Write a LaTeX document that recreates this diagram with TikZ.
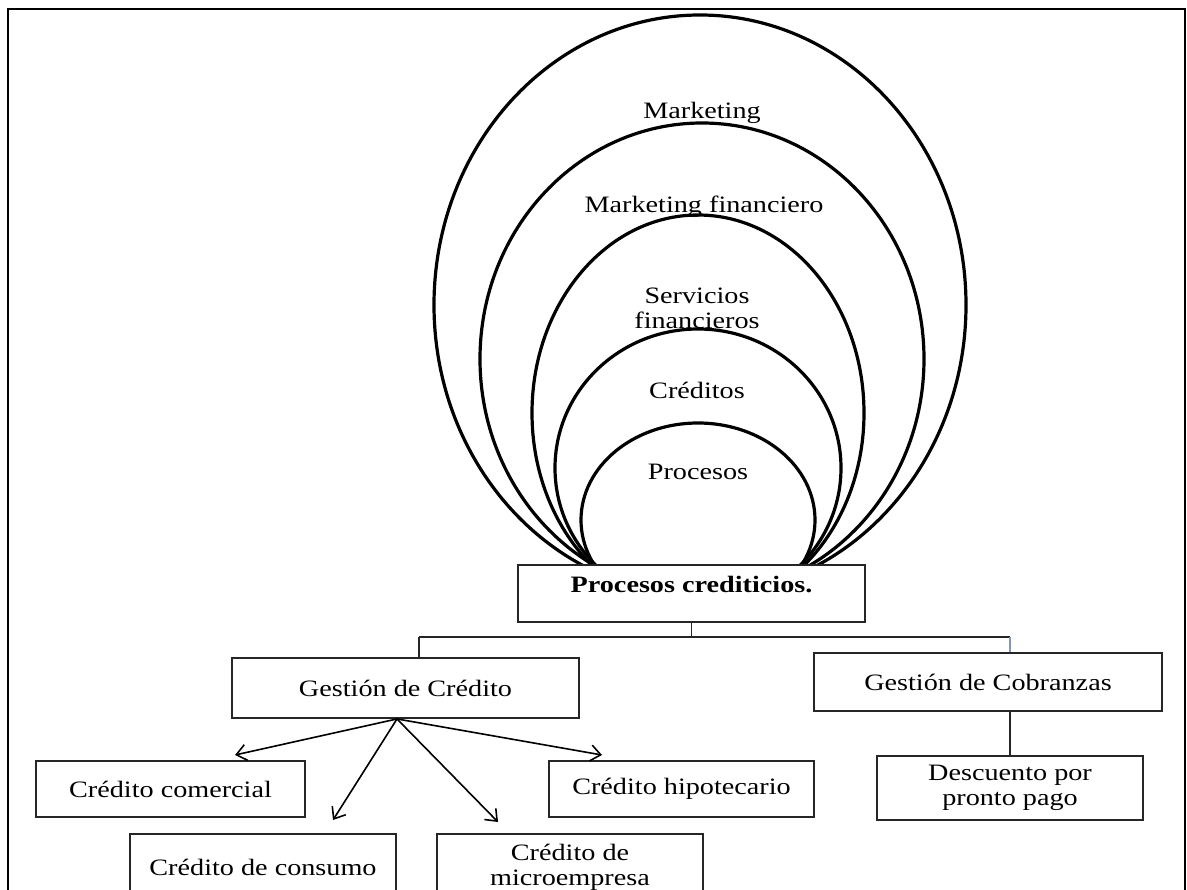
\documentclass[tikz,border=0pt]{standalone}
\usepackage{fontspec}
\setmainfont{Liberation Serif}[FakeStretch=1.2]
\usetikzlibrary{arrows.meta}
\newcommand{\txtf}{\fontsize{23.5}{25}\selectfont}
\definecolor{bluish}{RGB}{125,150,185}
\begin{document}
\begin{tikzpicture}[x=1pt,y=-1pt,
  oval/.style={draw=black, line width=3.2pt},
  lbl/.style={inner sep=0pt, align=center, font=\txtf},
  box/.style={draw=black!85, line width=1.9pt, fill=white, inner sep=0pt, align=center, font=\txtf},
  conn/.style={draw=black!85, line width=1.7pt},
  arr/.style={draw=black, line width=1.6pt, -{Straight Barb[length=10pt,width=16pt,line width=1.6pt]}}]
\clip (0,0) rectangle (1187,890);
% outer frame
\draw[line width=1.8pt] (8,900) -- (8,9) -- (1185,9) -- (1185,900);
% nested ovals
\begin{scope}
\clip (0,0) rectangle (1187,566);
\foreach \cx/\cy/\a/\b in {700/305/266/290, 702/359/222/236, 698/413/166/198, 698/468/143/139, 698/520/117/97}
  \draw[oval] (\cx,\cy) ellipse [x radius=\a pt, y radius=\b pt];
\end{scope}
\node[lbl] (mk) at (702,113) {Marketing};
\node[lbl] (mf) at (704,207) {Marketing financiero};
\node[lbl] (sf) at (697,308) {Servicios\\financieros};
\node[lbl] (cr) at (697,390) {Créditos};
\node[lbl] (pr) at (698,472) {Procesos};
% boxes
\node[box, minimum width=347pt, minimum height=57pt, font=\txtf\bfseries, text depth=18pt] (PC) at (691.5,593.5) {Procesos crediticios.};
\node[box, minimum width=347pt, minimum height=60pt] (GC) at (405.5,688) {Gestión de Crédito};
\node[box, minimum width=348pt, minimum height=58pt] (GCo) at (988,682) {Gestión de Cobranzas};
\node[box, minimum width=269pt, minimum height=56pt] (CCom) at (170.5,789) {Crédito comercial};
\node[box, minimum width=265pt, minimum height=56pt] (CHip) at (681.5,789) {Crédito hipotecario};
\node[box, minimum width=266pt, minimum height=64pt] (Desc) at (1010,788) {Descuento por\\pronto pago};
\node[box, minimum width=266pt, minimum height=66pt] (CCons) at (263,867) {Crédito de consumo};
\node[box, minimum width=266pt, minimum height=66pt] (CMic) at (570,867) {Crédito de\\microempresa};
% tree connectors
\coordinate (bL) at (419,637);
\coordinate (bR) at (1010,637);
\draw[conn] (PC.south) -- (PC.south |- bL);
\draw[conn] (bL) -- (bR);
\draw[conn] (bL) -- (bL |- GC.north);
\draw[conn, draw=bluish] (bR) -- (bR |- GCo.north);
\draw[conn] (GCo.south -| Desc.north) -- (Desc.north);
% arrows
\coordinate (ga) at ([xshift=-8.5pt]GC.south);
\coordinate (t1) at (235,755);
\coordinate (t2) at (333,820);
\coordinate (t3) at (498,822);
\coordinate (t4) at (602,755);
\draw[arr] (ga) -- (t1);
\draw[arr] (ga) -- (t2);
\draw[arr] (ga) -- (t3);
\draw[arr] (ga) -- (t4);
\end{tikzpicture}
\end{document}
